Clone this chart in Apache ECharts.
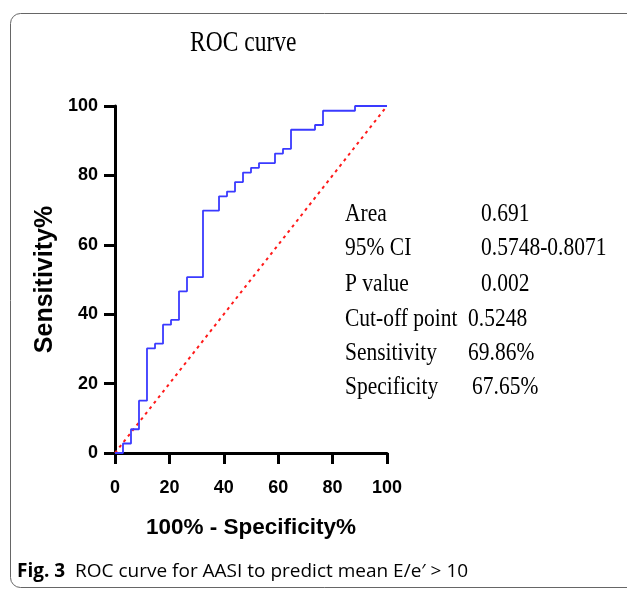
<!DOCTYPE html>
<html><head><meta charset="utf-8">
<script src="https://cdn.jsdelivr.net/npm/echarts@6/dist/echarts.min.js"></script>
<style>html,body{margin:0;padding:0;background:#fff}#c{width:627px;height:590px}</style>
</head><body><div id="c"></div>
<script>
// ROC operating points (100% - Specificity%, Sensitivity%)
const fpr = [0, 2.94, 5.88, 8.82, 11.76, 14.71, 17.65, 20.59, 23.53, 26.47, 32.35, 38.24, 41.18, 44.12, 47.06, 50, 52.94, 58.82, 61.76, 64.71, 73.53, 76.47, 88.24, 100];
const tpr = [0, 2.74, 6.85, 15.07, 30.14, 31.51, 36.99, 38.36, 46.58, 50.68, 69.86, 73.97, 75.34, 78.08, 80.82, 82.19, 83.56, 86.30, 87.67, 93.15, 94.52, 98.63, 100, 100];
const refX = [0, 100];
const refY = [0, 100];
const statLabels = ['Area', '95% CI', 'P value', 'Cut-off point', 'Sensitivity', 'Specificity'];
const statValues = ['0.691', '0.5748-0.8071', '0.002', '0.5248', '69.86%', '67.65%'];

const chart = echarts.init(document.getElementById('c'), null, {renderer: 'canvas'});
const rocData = fpr.map((x, i) => [x, tpr[i]]);
const refData = refX.map((x, i) => [x, refY[i]]);

const SANS = '"Liberation Sans", Arial, sans-serif';
const SERIF = '"Liberation Serif", "Times New Roman", serif';

const valueX = [481, 481, 481, 468, 468, 472];
const rowY = [214, 248, 284, 319, 353, 387];
const statGraphics = [];
statLabels.forEach((t, i) => {
  statGraphics.push({type: 'text', x: 345, y: rowY[i], scaleY: 1.2, style: {text: t, font: '21.5px ' + SERIF, fill: '#000', verticalAlign: 'middle'}});
  statGraphics.push({type: 'text', x: valueX[i], y: rowY[i], scaleY: 1.2, style: {text: statValues[i], font: '21.5px ' + SERIF, fill: '#000', verticalAlign: 'middle'}});
});

const axisCommon = {
  type: 'value', min: 0, max: 100, interval: 20,
  splitLine: {show: false},
  axisLine: {show: true, onZero: false, lineStyle: {color: '#000', width: 3}},
  axisTick: {show: true, length: 11, lineStyle: {color: '#000', width: 3}},
  axisLabel: {color: '#000', fontWeight: 'bold', fontSize: 18, fontFamily: SANS}
};

chart.setOption({
  animation: false,
  backgroundColor: '#fff',
  grid: {left: 115, right: 240, top: 106, bottom: 137, containLabel: false},
  xAxis: Object.assign({}, axisCommon, {
    axisLabel: Object.assign({}, axisCommon.axisLabel, {margin: 26}),
    name: '100% - Specificity%', nameLocation: 'middle', nameGap: 63,
    nameTextStyle: {color: '#000', fontWeight: 'bold', fontSize: 22.5, fontFamily: SANS}
  }),
  yAxis: Object.assign({}, axisCommon, {
    axisLabel: Object.assign({}, axisCommon.axisLabel, {margin: 17}),
    name: 'Sensitivity%', nameLocation: 'middle', nameGap: 57,
    nameTextStyle: {color: '#000', fontWeight: 'bold', fontSize: 25, fontFamily: SANS}
  }),
  series: [
    {type: 'line', data: refData, showSymbol: false, symbol: 'none', z: 2,
     lineStyle: {color: '#ff1a1a', width: 2, type: [3, 4]}},
    {type: 'line', data: rocData, step: 'end', showSymbol: false, symbol: 'none', z: 3,
     lineStyle: {color: '#3a3aff', width: 1.8}}
  ],
  graphic: [
    {type: 'rect', left: 8, top: 11, shape: {width: 640, height: 574, r: 10}, style: {fill: 'none', stroke: '#666', lineWidth: 1}, z: 0},
    {type: 'text', x: 190, y: 43, scaleY: 1.25, style: {text: 'ROC curve', font: '23.5px ' + SERIF, fill: '#000', verticalAlign: 'middle'}},
    {type: 'text', x: 17, y: 572, style: {
      verticalAlign: 'middle',
      rich: {
        b: {font: 'bold 19px "Open Sans", "Noto Sans", sans-serif', fill: '#000'},
        n: {font: '19px "Open Sans", "Noto Sans", sans-serif', fill: '#000'}
      },
      text: '{b|Fig. 3}{n|  ROC curve for AASI to predict mean E/e\u2032 > 10}'
    }}
  ].concat(statGraphics)
});
</script>
</body></html>
